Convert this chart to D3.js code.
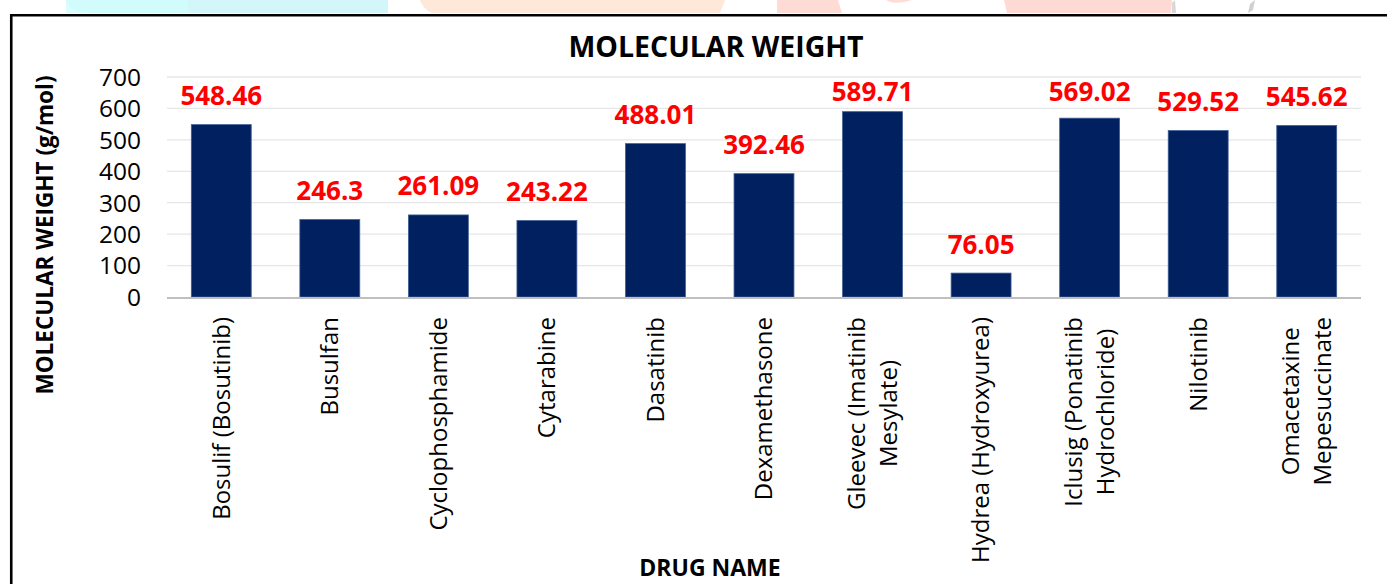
<!DOCTYPE html>
<html><head><meta charset="utf-8">
<script src="https://cdn.jsdelivr.net/npm/d3@7"></script>
<style>
html,body{margin:0;padding:0;background:#fff;overflow:hidden}
text{font-family:"Open Sans",sans-serif}
</style></head>
<body>
<svg id="chart" width="1387" height="584"></svg>
<script>
const categories = [
  "Bosulif (Bosutinib)", "Busulfan", "Cyclophosphamide", "Cytarabine", "Dasatinib",
  "Dexamethasone", "Gleevec (Imatinib|Mesylate)", "Hydrea (Hydroxyurea)",
  "Iclusig (Ponatinib|Hydrochloride)", "Nilotinib", "Omacetaxine|Mepesuccinate"
];
const values = [548.46, 246.3, 261.09, 243.22, 488.01, 392.46, 589.71, 76.05, 569.02, 529.52, 545.62];
const valueLabels = ["548.46","246.3","261.09","243.22","488.01","392.46","589.71","76.05","569.02","529.52","545.62"];
const yTicks = [0, 100, 200, 300, 400, 500, 600, 700];

const svg = d3.select("#chart");
const W = 1387, H = 584;

// decorative strip above frame (remnants of page header)
const deco = svg.append("g");
deco.append("path").attr("d","M66,0 H388 V13 H90 Q70,13 66,0 Z").attr("fill","#d3f6fb");
deco.append("rect").attr("x",66).attr("y",0).attr("width",122).attr("height",13).attr("fill","#d2fcfc").attr("opacity",0.8);
deco.append("path").attr("d","M420,0 H725 L720,13 H432 Q424,10 420,0 Z").attr("fill","#fde8da");
deco.append("path").attr("d","M777,0 H838 L842,13 H777 Z").attr("fill","#ffdbd5");
deco.append("path").attr("d","M886,0 H912 Q900,4 890,2 Z").attr("fill","#ffdcd6");
deco.append("path").attr("d","M1004,0 H1172 L1171,13 H1007 Z").attr("fill","#ffdad4");
deco.append("path").attr("d","M1172,3 L1175,0 L1176,13 L1172,13 Z").attr("fill","#d8d8d8");
deco.append("path").attr("d","M1250,4 L1255,0 L1253,10 L1248,13 Z").attr("fill","#d0d0d0");

// frame
svg.append("path").attr("d",`M11.25,${H+5} V15.25 H${W+5}`)
  .attr("fill","none").attr("stroke","#000").attr("stroke-width",2.6);

const plot = {left:167, right:1361, top:77, bottom:297};
const x = d3.scaleBand().domain(categories).range([plot.left, plot.right]).paddingInner(0.448).paddingOuter(0.224);
const y = d3.scaleLinear().domain([0,700]).range([plot.bottom, plot.top]);

// gridlines
svg.append("g").selectAll("line").data(yTicks.filter(d=>d>0)).join("line")
  .attr("x1",plot.left).attr("x2",plot.right)
  .attr("y1",d=>y(d)).attr("y2",d=>y(d))
  .attr("stroke","#e6e6e6").attr("stroke-width",1.3);

// y axis tick labels
const yAxis = d3.axisLeft(y).tickValues(yTicks).tickSize(0).tickPadding(0);
const gy = svg.append("g").attr("transform",`translate(141,0)`).call(yAxis);
gy.select(".domain").remove();
gy.selectAll("text").attr("font-size",24.5).attr("fill","#000").attr("font-family","Open Sans").attr("dy","0.34em");

// bars
svg.append("g").selectAll("rect").data(values).join("rect")
  .attr("x",(d,i)=>x(categories[i]))
  .attr("width",x.bandwidth())
  .attr("y",d=>y(d))
  .attr("height",d=>y(0)-y(d))
  .attr("fill","#002060")
  .attr("stroke","#3f5f95").attr("stroke-width",0.8);

// baseline
svg.append("line").attr("x1",plot.left).attr("x2",plot.right)
  .attr("y1",plot.bottom+1).attr("y2",plot.bottom+1)
  .attr("stroke","#bfbfbf").attr("stroke-width",2.2);

// data labels
svg.append("g").selectAll("text").data(values).join("text")
  .attr("x",(d,i)=>x(categories[i])+x.bandwidth()/2)
  .attr("y",d=>Math.max(y(d)-29, plot.top+14)+9.5)
  .attr("text-anchor","middle")
  .attr("font-size",26).attr("font-weight","bold").attr("fill","#ff0000")
  .text((d,i)=>valueLabels[i]);

// x axis labels (rotated, wrapped)
const xl = svg.append("g");
categories.forEach((c,i)=>{
  const lines = c.split("|");
  const cx = x(c)+x.bandwidth()/2;
  const g = xl.append("g");
  const texts = lines.map((ln,j)=>{
    const off = (j-(lines.length-1)/2)*32;
    return g.append("text")
      .attr("transform",`translate(${cx+off},317) rotate(-90)`)
      .attr("dy","0.35em")
      .attr("font-size",24).attr("fill","#000")
      .text(ln);
  });
  const lens = texts.map(t=>t.node().getComputedTextLength());
  const maxLen = Math.max(...lens);
  texts.forEach((t,j)=>{
    const off = (j-(lines.length-1)/2)*32;
    t.attr("transform",`translate(${cx+off},${317+maxLen/2}) rotate(-90)`).attr("text-anchor","middle");
  });
});

// titles
svg.append("text").attr("x",716).attr("y",57).attr("text-anchor","middle")
  .attr("font-size",28.5).attr("font-weight","bold").attr("fill","#000").text("MOLECULAR WEIGHT");
svg.append("text").attr("transform","translate(45,235) rotate(-90)").attr("dy","0.35em")
  .attr("text-anchor","middle").attr("font-size",22.5).attr("font-weight","bold").attr("fill","#000")
  .text("MOLECULAR WEIGHT (g/mol)");
svg.append("text").attr("x",710).attr("y",576).attr("text-anchor","middle")
  .attr("font-size",23).attr("font-weight","bold").attr("fill","#000").text("DRUG NAME");
</script>
</body></html>
